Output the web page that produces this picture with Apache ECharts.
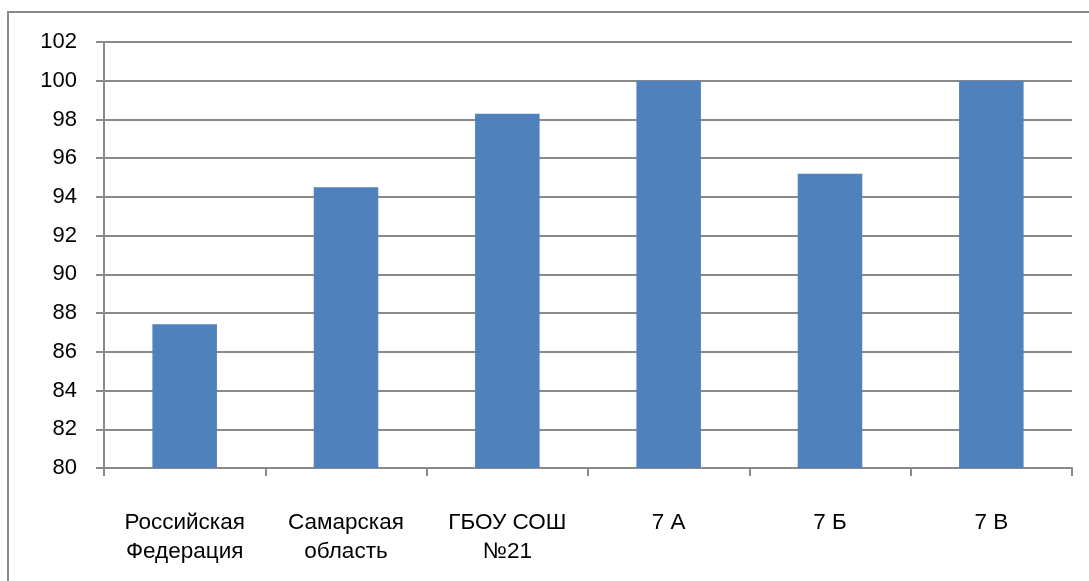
<!DOCTYPE html>
<html><head><meta charset="utf-8">
<script src="https://cdn.jsdelivr.net/npm/echarts@6/dist/echarts.min.js"></script>
<style>html,body{margin:0;padding:0;background:#fff}#c{width:1089px;height:581px}</style>
</head><body><div id="c"></div>
<script>
const categories = ['Российская\nФедерация', 'Самарская\nобласть', 'ГБОУ СОШ\n№21', '7 А', '7 Б', '7 В'];
const values = [87.42, 94.5, 98.3, 100, 95.2, 100];
const yMin = 80, yMax = 102, yStep = 2;

const chart = echarts.init(document.getElementById('c'));
const font = '"Liberation Sans", "Noto Sans", sans-serif';
chart.setOption({
  animation: false,
  backgroundColor: '#fff',
  graphic: [{
    type: 'rect', shape: {x: 8, y: 12, width: 1200, height: 700},
    style: {fill: 'none', stroke: '#8a8a8a', lineWidth: 2}, silent: true
  }],
  grid: {left: 104, right: 17, top: 42, bottom: 113},
  xAxis: {
    type: 'category', data: categories,
    axisLine: {lineStyle: {color: '#8a8a8a', width: 2}},
    axisTick: {show: true, length: 8, alignWithLabel: false, lineStyle: {color: '#8a8a8a', width: 2}},
    axisLabel: {color: '#000', fontFamily: font, fontSize: 22.5, lineHeight: 29, margin: 40, interval: 0}
  },
  yAxis: {
    type: 'value', min: yMin, max: yMax, interval: yStep,
    axisLine: {show: true, lineStyle: {color: '#8a8a8a', width: 2}},
    axisTick: {show: true, length: 8, lineStyle: {color: '#8a8a8a', width: 2}},
    splitLine: {lineStyle: {color: '#8a8a8a', width: 2}},
    axisLabel: {color: '#000', fontFamily: font, fontSize: 22, margin: 27}
  },
  series: [{
    type: 'bar', data: values, barCategoryGap: '60%',
    itemStyle: {color: '#4f81bd'}
  }]
});
</script></body></html>
